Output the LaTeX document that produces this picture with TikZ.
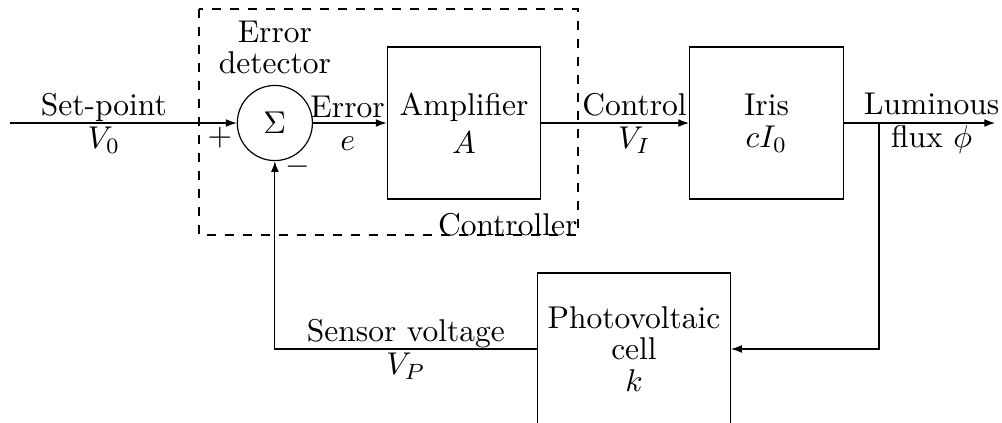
\RequirePackage{fix-cm}
\documentclass[tikz,border=0pt]{standalone}
\usepackage{amsmath, amssymb}
\usepackage{tikz}
\usetikzlibrary{arrows.meta, positioning, calc}

\begin{document}
\begin{tikzpicture}[>={Latex[length=3.6pt,width=2.6pt]},
    every node/.append style={font=\fontsize{10.5}{12.6}\selectfont},
    block/.style={draw, minimum width=1.8cm, minimum height=1.78cm, align=center},
    sig/.style={align=center}]
    \useasboundingbox (0,0) rectangle (11.738,-4.955);
    % blocks
    \node[draw, circle, minimum size=0.88cm, inner sep=0pt] (sum) at (3.22,-1.441) {$\Sigma$};
    \node[block] (amp) at (5.436,-1.441) {Amplifier\\$A$};
    \node[block] (iris) at (8.979,-1.441) {Iris\\[-2pt]$cI_0$};
    \node[block, minimum width=2.226cm] (cell) at (7.427,-4.088) {Photovoltaic\\[-2pt]cell\\[-2pt]$k$};
    \node[align=center] (det) [above=0pt of sum] {Error\\[-2pt]detector};
    \node (plus) at (2.577,-1.617) {$+$};
    \node (minus) at (3.491,-1.956) {$-$};
    % controller frame
    \coordinate (ctl-nw) at (2.331,-0.105);
    \coordinate (ctl-se) at (6.771,-2.753);
    \draw[dashed] (ctl-nw) rectangle (ctl-se);
    \node[anchor=base east, inner sep=0pt] (ctl) at (ctl-se) {Controller};
    % signals
    \coordinate (in) at (0.117,-1.441);
    \coordinate (out) at (11.657,-1.441);
    \coordinate (tap) at (10.298,-1.441);
    \draw[->] (in) -- node[sig, pos=0.414] {Set-point\\[-1.5pt]$V_0$} (sum);
    \draw[->] (sum) -- node[sig, pos=0.47] {Error\\[-1.5pt]$e$} (amp);
    \draw[->] (amp) -- node[sig, pos=0.63] {Control\\[-1.5pt]$V_I$} (iris);
    \draw[->] (iris) -- node[sig, pos=0.58] {Luminous\\[-1.5pt]flux $\phi$} (out);
    % feedback
    \draw[->] (tap) |- (cell);
    \draw[->] (cell) -| node[sig, pos=0.25] {Sensor voltage\\[-1.5pt]$V_P$} (sum);
\end{tikzpicture}
\end{document}
